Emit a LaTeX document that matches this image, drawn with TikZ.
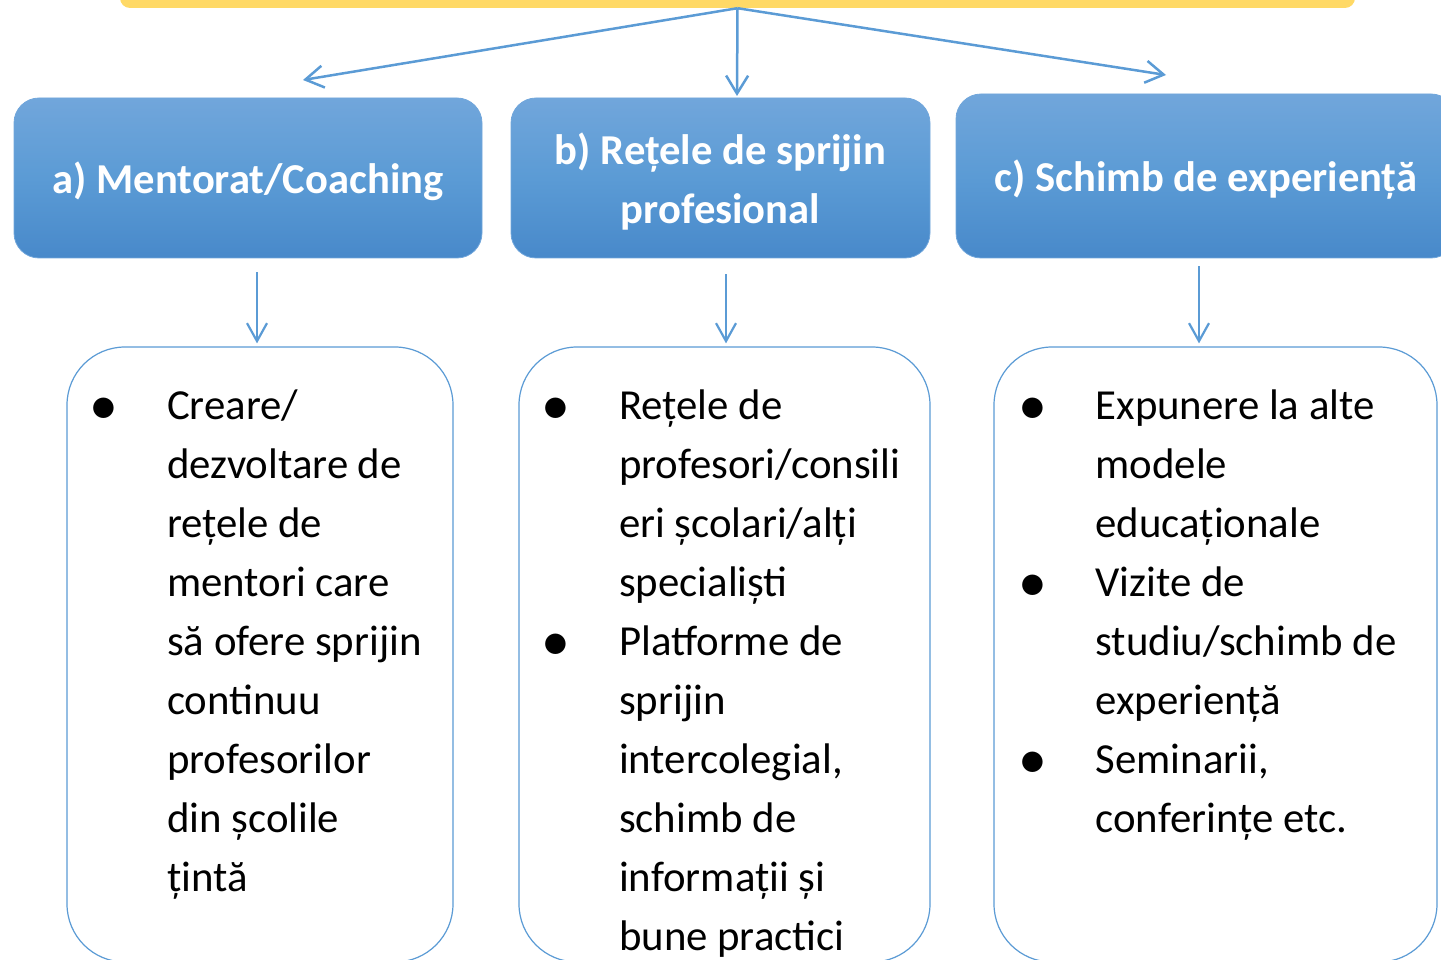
\documentclass[tikz,border=0pt]{standalone}
\usepackage{fontspec}
\setmainfont{Carlito}
\usepackage{array}
\usetikzlibrary{arrows.meta,positioning,calc}
\definecolor{lineblue}{HTML}{5B9BD5}
\definecolor{hTop}{HTML}{71A6DB}
\definecolor{hMid}{HTML}{5B9BD5}
\definecolor{hBot}{HTML}{4889CA}
\definecolor{barYellow}{HTML}{FFD966}
\tikzset{
  head/.style={rounded corners=25pt, top color=hTop, bottom color=hBot, middle color=hMid,
    draw=hTop, line width=0.8pt, minimum height=160pt, inner sep=0pt,
    text=white, font=\fontsize{42.6}{59}\selectfont\bfseries, align=center},
  listbox/.style={draw=lineblue, line width=1.2pt, rounded corners=58pt, fill=white,
    minimum height=615pt, inner sep=0pt},
  listtext/.style={anchor=north west, inner sep=0pt, font=\fontsize{42.8}{59}\selectfont},
  link/.style={lineblue, line width=2.5pt, -{Straight Barb[length=18pt,width=22pt]}},
  drop/.style={lineblue, line width=2.2pt, -{Straight Barb[length=18pt,width=20pt]}}
}
\newcommand{\bul}{\makebox[0pt]{\raisebox{-5pt}{\scalebox{1.35}{•}}}}

\begin{document}
\begin{tikzpicture}[x=1pt, y=-1pt]
\useasboundingbox (0,0) rectangle (1441,960);
% bar on top, cut off by the page
\node[fill=barYellow, rounded corners=10pt, minimum width=1235pt, minimum height=60pt] (top) at (737.5,-22) {};
\coordinate (tipa) at (303,80);
\coordinate (tipb) at (737,96);
\coordinate (tipc) at (1166,75);
\draw[link] (top.south) -- (tipa);
\draw[link] (top.south) -- (tipb);
\draw[link] (top.south) -- (tipc);

% headers
\node[head, minimum width=468pt, text height=32pt, text depth=0pt] (a) at (248,178) {a) Mentorat/Coaching};
\node[head, minimum width=419pt, text height=92pt, text depth=0pt] (b) at (720.5,178) {b) Rețele de sprijin\\profesional};
\node[head, minimum width=500pt, minimum height=164pt, text height=31pt, text depth=0pt] (c) at (1206,176) {c) Schimb de experiență};

% lists
\node[listbox, minimum width=386pt] (la) at (260,654.5) {};
\node[listbox, minimum width=411pt] (lb) at (724.5,654.5) {};
\node[listbox, minimum width=443pt] (lc) at (1215.5,654.5) {};

\draw[drop, shorten <=14pt, shorten >=3pt] ([xshift=-3pt]la.north |- a.south) -- ([xshift=-3pt]la.north);
\draw[drop, shorten <=16pt, shorten >=3pt] ([xshift=1.5pt]lb.north |- b.south) -- ([xshift=1.5pt]lb.north);
\draw[drop, shorten <=8pt, shorten >=3pt] ([xshift=-16.5pt]lc.north |- c.south) -- ([xshift=-16.5pt]lc.north);

\node[listtext] (ta) at ([shift={(37.5,31.5)}]la.north west) {%
  \begin{tabular}{@{}p{63pt}@{}l@{}}
  \bul & Creare/\\
       & dezvoltare de\\
       & rețele de\\
       & mentori care\\
       & să ofere sprijin\\
       & continuu\\
       & profesorilor\\
       & din școlile\\
       & țintă
  \end{tabular}};
\node[listtext] (tb) at ([shift={(37.5,31.5)}]lb.north west) {%
  \begin{tabular}{@{}p{63pt}@{}l@{}}
  \bul & Rețele de\\
       & profesori/consili\\
       & eri școlari/alți\\
       & specialiști\\
  \bul & Platforme de\\
       & sprijin\\
       & intercolegial,\\
       & schimb de\\
       & informații și\\
       & bune practici
  \end{tabular}};
\node[listtext] (tc) at ([shift={(39,31.5)}]lc.north west) {%
  \begin{tabular}{@{}p{63pt}@{}l@{}}
  \bul & Expunere la alte\\
       & modele\\
       & educaționale\\
  \bul & Vizite de\\
       & studiu/schimb de\\
       & experiență\\
  \bul & Seminarii,\\
       & conferințe etc.
  \end{tabular}};
\end{tikzpicture}
\end{document}
